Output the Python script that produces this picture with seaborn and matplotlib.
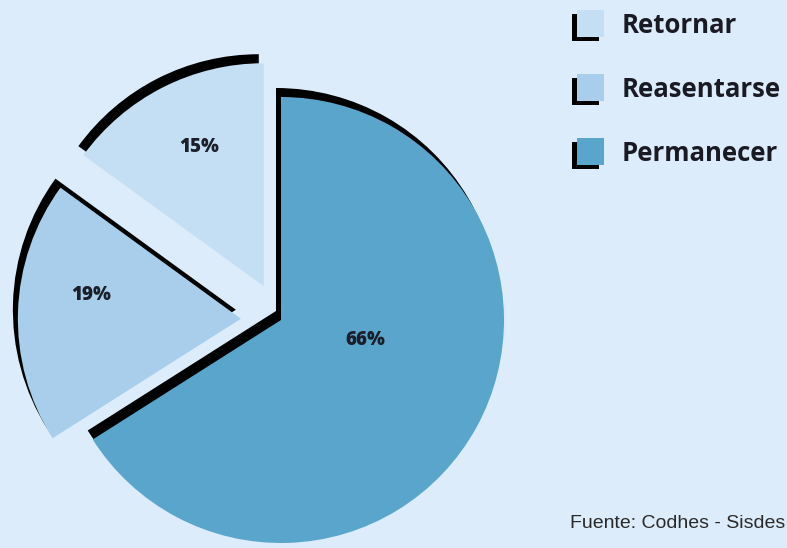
import matplotlib
matplotlib.use("Agg")
import matplotlib.pyplot as plt
import seaborn as sns
import numpy as np
from matplotlib.patches import Rectangle

# ---- data ----
categories = ["Permanecer", "Reasentarse", "Retornar"]
values = [66, 19, 15]
legend_order = ["Retornar", "Reasentarse", "Permanecer"]
source_text = "Fuente: Codhes - Sisdes"

# ---- style ----
sns.set_theme(style="white")
plt.rcParams["font.family"] = ["Open Sans", "DejaVu Sans"]
bg = "#dcecfa"
colors = {"Permanecer": "#5aa5cc", "Reasentarse": "#a8ceec", "Retornar": "#c4dff3"}

W, H = 787, 548
fig = plt.figure(figsize=(W / 100, H / 100), dpi=100, facecolor=bg)
ax = fig.add_axes([0, 0, 1, 1])
ax.set_facecolor(bg)

cx, cy, r = 281, H - 320, 223
shadow_dx, shadow_dy = -5, 9
explode = [0.0 * r, 0.18 * r, 0.17 * r]   # matplotlib explode is in data units
# label placement (fraction of radius, angle in degrees) relative to each wedge centre
label_place = [(0.39, -13), (0.68, 171), (0.69, 115)]

pal = [colors[c] for c in categories]

# shadow layer
ax.pie(values, explode=explode, startangle=90, counterclock=False,
       colors=["black"] * len(values), radius=r,
       center=(cx + shadow_dx, cy + shadow_dy), frame=True,
       wedgeprops=dict(linewidth=0, zorder=1))

# main wedges
wedges, texts, autotexts = ax.pie(
    values, explode=explode, startangle=90, counterclock=False,
    colors=pal, radius=r, center=(cx, cy), frame=True,
    autopct=lambda p: f"{p:.0f}%", pctdistance=0.68,
    wedgeprops=dict(linewidth=0, zorder=2),
    textprops=dict(fontsize=13.5, fontweight="heavy", color="#1a1f2a"))

for w, t, (d, a) in zip(wedges, autotexts, label_place):
    wx, wy = w.center
    ang = np.deg2rad(a)
    t.set_position((wx + d * r * np.cos(ang), wy + d * r * np.sin(ang)))
    t.set_zorder(5)

ax.set_xlim(0, W)
ax.set_ylim(0, H)
ax.set_aspect("auto")
ax.axis("off")

# ---- legend ----
for i, name in enumerate(legend_order):
    y_top = 10 + i * 64
    sq = 27
    # L-shaped shadow
    ax.add_patch(Rectangle((577 - 5, H - (y_top + sq + 4)), sq, sq,
                           facecolor="black", edgecolor="none", zorder=3))
    ax.add_patch(Rectangle((577, H - (y_top + sq)), sq, sq,
                           facecolor=colors[name], edgecolor="none", zorder=4))
    ax.text(622, H - (y_top + sq / 2 + 2), name, fontsize=18.5, fontweight="bold",
            color="#1a1a24", va="center", ha="left", zorder=5)

ax.text(570, H - 524, source_text, fontsize=14, color="#2a2a2a",
        va="center", ha="left", family=["Liberation Sans", "DejaVu Sans"])

fig.savefig("out.png", dpi=100, facecolor=bg)
